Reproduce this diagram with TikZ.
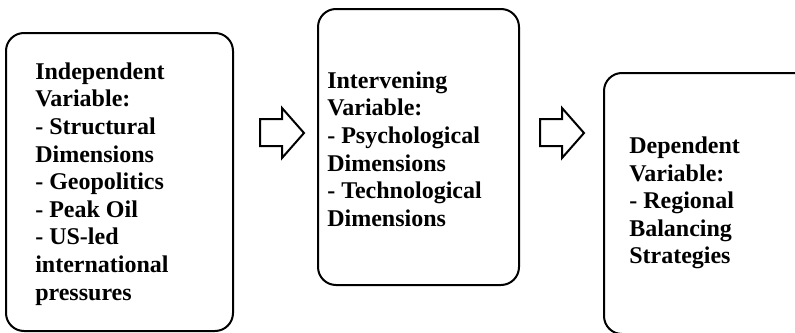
\documentclass[tikz,border=0pt]{standalone}
\usepackage{fontspec}
\setmainfont{Liberation Serif}
\begin{document}
\begin{tikzpicture}[x=0.75pt,y=-0.75pt,
  varbox/.style={draw=black, line width=1.5pt, rounded corners=13.5pt,
    inner sep=0pt, outer sep=0pt, fill=white},
  vartext/.style={anchor=west, inner sep=0pt, align=left,
    font=\fontsize{18}{20.7}\selectfont\bfseries},
  barrow/.pic={
    \draw[line width=1.5pt, line join=miter, fill=white]
      (-22,-14) -- (0,-14) -- (0,-25) -- (22,0) -- (0,25) -- (0,13)
      -- (-22,13) -- cycle;
  }]
\useasboundingbox[fill=white] (0,0) rectangle (795,332);

% the three variable boxes (the last one runs past the right and bottom edges)
\node[varbox, minimum width=170.25pt, minimum height=223.5pt] (b1) at (119.5,182) {};
\node[varbox, minimum width=150.75pt, minimum height=207pt] (b2) at (418.5,147) {};
\node[varbox, minimum width=158.25pt, minimum height=195.75pt] (b3) at (709.5,203.5) {};

% their labels
\node[vartext] (t1) at (35,184) {Independent\\ Variable:\\ - Structural\\ Dimensions\\ - Geopolitics\\ - Peak Oil\\ - US-led\\ international\\ pressures};
\node[vartext] (t2) at (327,149) {Intervening\\ Variable:\\ - Psychological\\ Dimensions\\ - Technological\\ Dimensions};
\node[vartext] (t3) at (629,203) {Dependent\\ Variable:\\ - Regional\\ Balancing\\ Strategies};

% block arrows between the boxes
\pic at (282,133) {barrow};
\pic at (562,133) {barrow};
\end{tikzpicture}
\end{document}
